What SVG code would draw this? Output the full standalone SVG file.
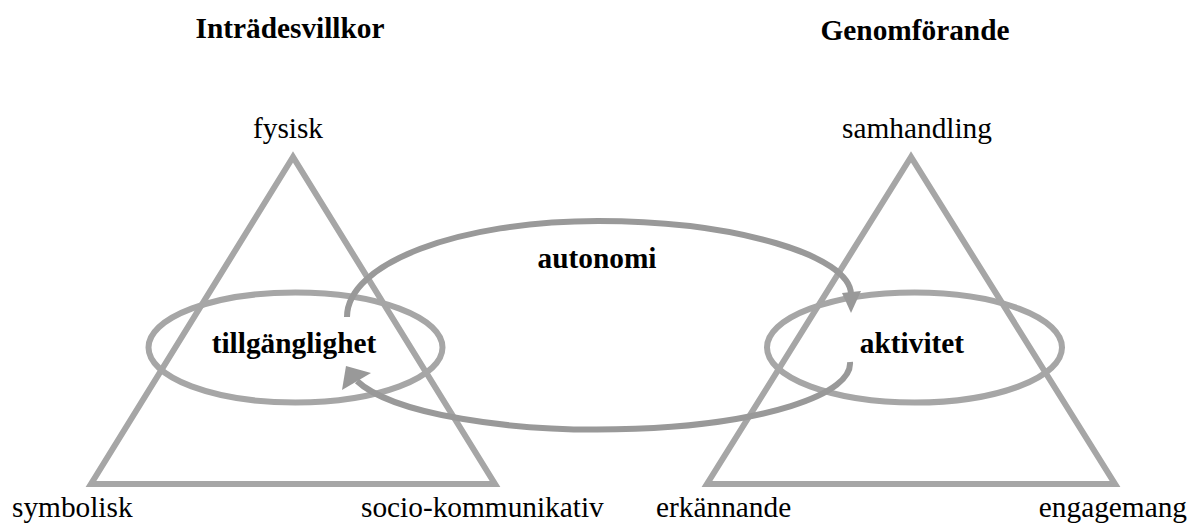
<svg xmlns="http://www.w3.org/2000/svg" width="1189" height="524" viewBox="0 0 1189 524">
<style>
.tri{fill:none;stroke:#a6a6a6;stroke-width:6;stroke-linejoin:miter}
.ell{fill:none;stroke:#a6a6a6;stroke-width:6}
.arc{fill:none;stroke:#999999;stroke-width:6}
.head{fill:#999999}
text{font-family:"Liberation Serif","Times New Roman",serif;font-size:29.33px;fill:#000}
.b{font-weight:bold}
</style>
<rect width="1189" height="524" fill="#fff"/>
<g id="left-triangle">
<polygon class="tri" points="293,157 91,484 495,484"/>
<text x="290" y="38" text-anchor="middle" class="b">Inträdesvillkor</text>
<text x="288" y="138" text-anchor="middle">fysisk</text>
<text x="12" y="517">symbolisk</text>
<text x="361" y="517">socio-kommunikativ</text>
</g>
<g id="right-triangle">
<polygon class="tri" points="911,157 707,484 1115,484"/>
<text x="915" y="40" text-anchor="middle" class="b">Genomförande</text>
<text x="917" y="138" text-anchor="middle">samhandling</text>
<text x="656" y="517">erkännande</text>
<text x="1187" y="517" text-anchor="end">engagemang</text>
</g>
<g id="tillganglighet">
<ellipse class="ell" cx="295.5" cy="347.5" rx="147" ry="55"/>
<text x="294" y="353" text-anchor="middle" class="b">tillgänglighet</text>
</g>
<g id="aktivitet">
<ellipse class="ell" cx="914.5" cy="347.5" rx="147.5" ry="55"/>
<text x="912" y="353" text-anchor="middle" class="b">aktivitet</text>
</g>
<g id="connectors">
<path class="arc" d="M347,317 C347,263 459,221 598,221 C737,221 850,256 851,294"/>
<polygon class="head" points="851,313 842,293 861,291"/>
<path class="arc" d="M850,362 A251,66 0 0 1 357,381"/>
<polygon class="head" points="346,366 342,390 371,373"/>
<text x="597" y="268" text-anchor="middle" class="b">autonomi</text>
</g>
</svg>
